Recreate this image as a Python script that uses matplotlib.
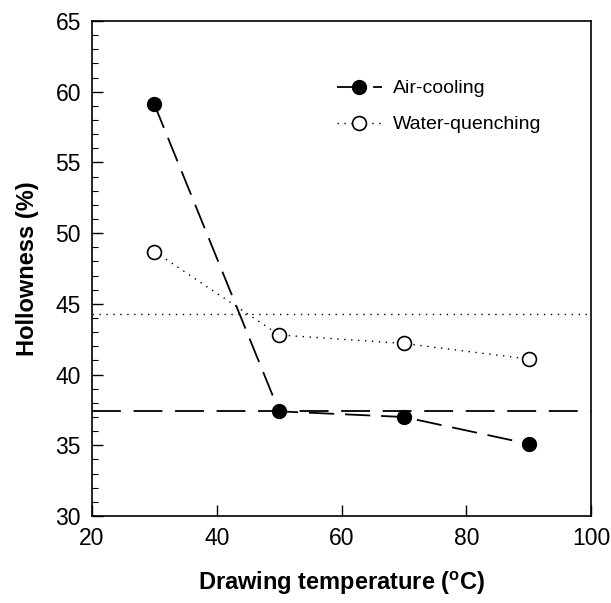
import matplotlib
matplotlib.use("Agg")
import matplotlib.pyplot as plt
from matplotlib.ticker import MultipleLocator

plt.rcParams['font.family'] = ['Liberation Sans', 'DejaVu Sans']

temps = [30, 50, 70, 90]
air_cooling = [59.1, 37.4, 37.0, 35.1]
water_quenching = [48.7, 42.8, 42.2, 41.1]
air_ref = 37.4
water_ref = 44.3

fig = plt.figure(figsize=(6.11, 6.03), dpi=100)
ax = fig.add_axes([92/611, 1 - 516/603, (591-92)/611, (516-21)/603])

ax.plot(temps, air_cooling, color='black', lw=1.3, dashes=(14, 6),
        marker='o', ms=10, mfc='black', mec='black', label='Air-cooling')
ax.plot(temps, water_quenching, color='black', lw=1.0, ls=(0, (1, 4)),
        marker='o', ms=10, mfc='white', mec='black', mew=1.2, label='Water-quenching')
ax.axhline(air_ref, color='black', lw=1.3, dashes=(16, 7))
ax.axhline(water_ref, color='black', lw=1.0, ls=(0, (1, 4)))

ax.set_xlim(20, 100)
ax.set_ylim(30, 65)
ax.xaxis.set_major_locator(MultipleLocator(20))
ax.yaxis.set_major_locator(MultipleLocator(5))
ax.yaxis.set_minor_locator(MultipleLocator(1))
ax.tick_params(axis='both', which='major', direction='in', length=8, width=1,
               labelsize=16.5, pad=8, top=False, right=False)
ax.tick_params(axis='y', which='minor', direction='in', length=4, width=0.8)
for s in ax.spines.values():
    s.set_linewidth(1.2)

ax.set_xlabel('Drawing temperature ($\\mathregular{^{o}}$C)', fontsize=17,
              fontweight='bold', labelpad=14)
ax.set_ylabel('Hollowness (%)', fontsize=17, fontweight='bold', labelpad=12)

ax.legend(loc='upper left', bbox_to_anchor=(0.475, 0.897), frameon=False,
          fontsize=14, handlelength=2.3, handletextpad=0.6, labelspacing=0.95,
          borderaxespad=0)

fig.savefig('out.png', dpi=100)
